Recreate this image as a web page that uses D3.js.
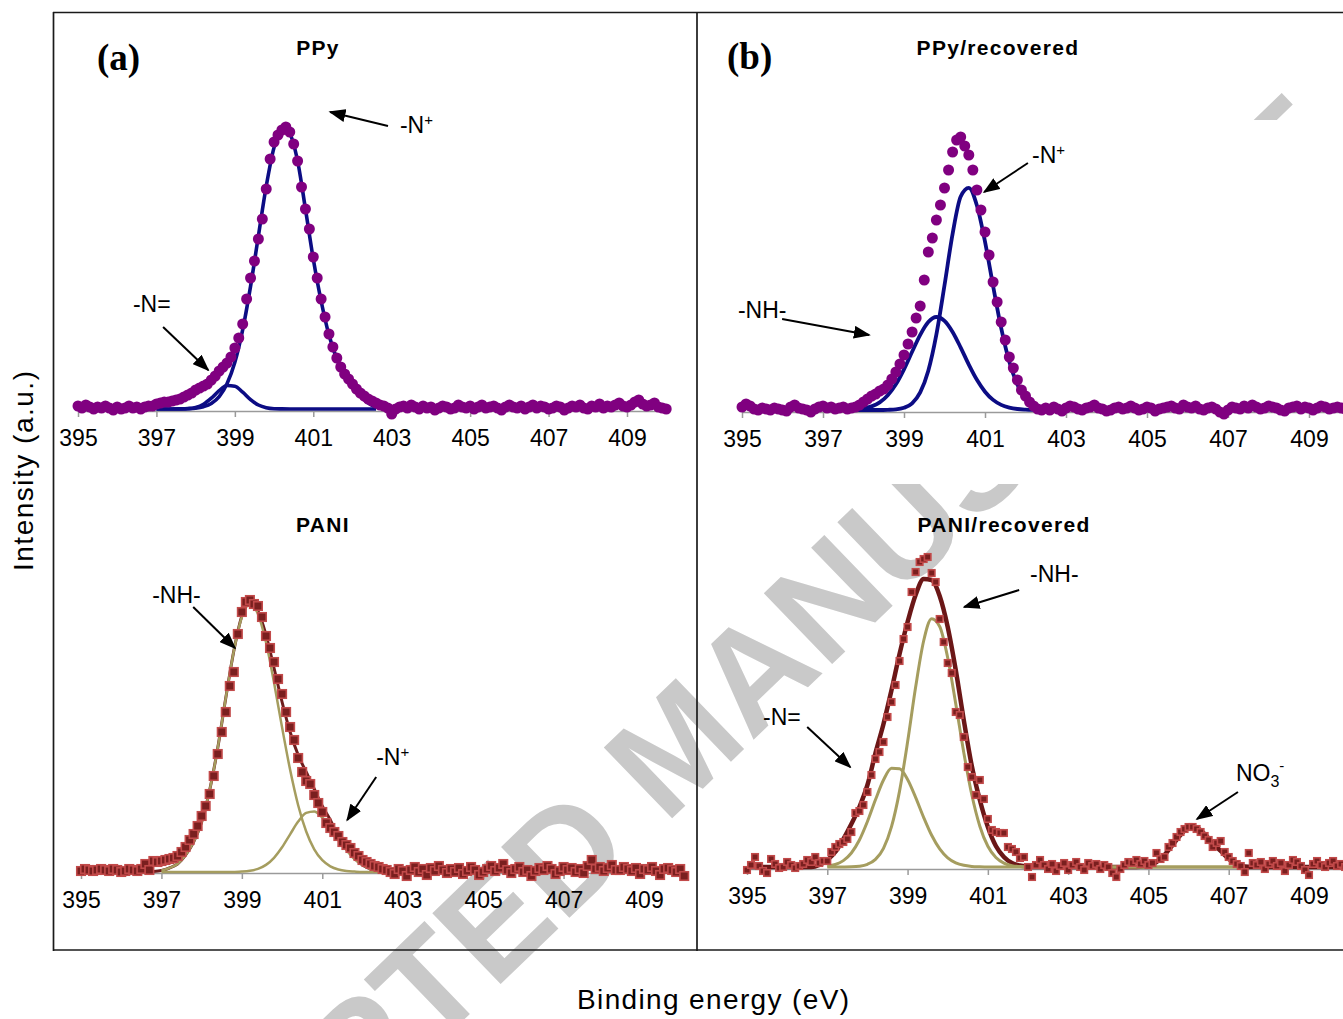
<!DOCTYPE html>
<html><head><meta charset="utf-8">
<script src="https://cdn.jsdelivr.net/npm/d3@7"></script>
<style>
html,body{margin:0;padding:0;background:#fff;}
svg{display:block;}
</style></head><body>
<svg id="chart" width="1343" height="1019"></svg>
<script>
// ---------------- DATA ----------------
const dotStart = 395.0, dotStep = 0.1, lineStep = 0.2;
const tickValues = [395, 397, 399, 401, 403, 405, 407, 409];

// (a) PPy : measured points (395.0 .. 410.0, every 0.1 eV)
const ppyIntensity = [3,1,4,2,0,2,1,3,1,-1,2,0,1,3,1,2,0,2,3,
 3,5,6,7,7,8,9,10,12,14,16,19,21,23,
 25,29,33,38,42,46,52,61,71,85,110,131,148,170,190,220,250,267,274,279,282,277,265,248,222,200,180,152,131,110,92,75,62,51,42,35,30,25,20,16,13,10,8,6,4,3,1,-5,0,2,
 3,1,4,2,0,3,1,2,-1,1,3,2,0,1,4,2,1,3,0,2,4,1,2,3,1,-1,2,4,2,1,3,0,2,4,1,3,2,0,1,3,2,-1,1,3,2,4,1,0,3,2,5,1,3,2,4,6,3,2,4,7,9,5,3,4,6,2,1,0];
const ppyLineStart = 397.0;
const ppyFitNplus = [0,0,0,0.1,0.3,0.8,2.3,5.5,12.3,25.2,46.7,79.3,122.6,173.0,222.7,261.6,280.2,275,248,200,150,108,74,50,33,22,13,6,2];
const ppyFitNeq = [0,0,0,0.1,0.4,1.6,4.8,10.8,18.3,23.5,22.8,16.8,9.4,4.0,1.3,0.3,0.1,0,0,0,0,0,0,0,0,0,0,0,0];

// (b) PPy/recovered
const ppyRecIntensity = [3,6,4,1,0,2,1,0,2,1,0,-1,3,5,2,1,0,-2,1,3,4,2,3,1,2,3,
 1,2,3,5,8,11,14,16,19,21,25,31,38,46,55,66,78,92,104,130,158,172,190,205,222,240,258,270,273,264,255,240,220,200,178,155,128,108,88,70,53,42,30,20,14,8,4,1,0,
 2,0,3,1,-1,2,4,3,1,0,2,3,5,2,1,-1,0,2,3,1,2,4,2,0,1,3,2,-1,1,2,3,4,2,1,5,3,2,4,1,0,2,3,1,-2,-4,0,3,2,1,4,2,5,3,1,2,4,3,2,0,-1,2,3,4,1,3,2,0,2,4,3,1,2,3,2,1,2];
const ppyRecLineStart = 397.8;
const ppyRecFitNH = [0.6,1.5,3.6,7.6,14.7,25.7,40.7,58.2,75.2,88.0,93.0,89.2,78.1,62.4,45.4,30.2,18.3,10.1,5.1,2.4,1.0,0.4,0.1,0];
const ppyRecFitNplus = [0,0,0,0,0.2,0.6,2.2,6.7,17.6,39.3,75.6,124.7,176.2,213.5,222.2,204.5,168.3,124.0,81.8,48.2,25.5,12.0,5.1,1.9];

// PANI
const paniIntensity = [1,3,2,1,2,3,2,1,3,2,0,1,3,2,1,
 3,8,2,11,10,11,12,13,14,16,20,25,32,38,46,56,66,78,96,118,140,160,186,200,238,260,270,272,268,266,255,236,224,210,193,178,160,145,132,114,100,91,88,77,69,60,49,44,40,36,30,27,24,19,16,12,10,8,6,5,3,2,0,
 -2,3,1,-4,2,5,0,3,-3,4,1,6,2,-1,3,0,4,-2,1,5,2,-3,0,3,6,1,4,8,2,-1,3,5,0,2,-4,1,4,2,6,3,-2,1,5,2,4,0,3,-1,6,12,3,5,1,4,7,2,2,5,3,1,4,-2,3,2,5,1,-3,3,4,2,0,3,-4];
const paniEnvStart = 396.8;
const paniEnvelope = [0.5,1.5,4,8,17,30,50,82,124,174,221,256,269,261,237,204,170,140,117,100,83,66,52,35,24,14,7,3,1];
const paniLineStart = 397.0;
const paniFitNH = [1.5,4,8,17,30,50,82,124,174,221,255,268,257.9,229.7,189.4,144.6,102.2,66.8,40.5,22.7,11.8,5.7,2.5,1.0,0.4,0,0,0];
const paniFitNplus = [0,0,0,0,0,0,0,0,0,0.1,0.4,1.2,3.1,7.1,14.2,24.7,37.7,50.4,59.1,60.6,54.6,46,32,22,13,7,3,1];

// PANI/recovered
const paniRecIntensity = [-3,2,10,1,-4,-6,8,3,-1,0,5,2,-1,1,3,7,5,10,4,6,6,
 15,20,23,25,28,35,54,56,62,75,92,108,115,125,150,165,182,206,228,240,275,295,305,308,310,294,285,248,225,204,194,155,152,130,100,90,72,87,68,48,37,35,34,34,20,18,15,9,10,0,-10,2,7,2,
 -2,3,-4,1,4,-3,2,5,0,-3,4,1,3,-2,2,0,-6,-10,-2,2,5,4,7,3,6,
 2,4,14,8,10,20,24,30,35,38,40,40,38,35,31,27,20,24,26,15,10,6,3,1,-5,14,4,2,5,-2,3,6,1,4,-4,2,7,5,1,-3,-8,3,6,2,0,4,6,1,3,0,2];
const paniRecEnvStart = 395.0;
const paniRecEnvelope = [0,0,0,0,0,0,0,0,0,
 2,7,15,28,43,60,82,114,143,177,213,245,272,288,287,271,240,197,147,101,67,40,21,10,4,1.5,0.5,
 0,0,0,0,0,0,0,0,0,0,0,0,0,
 0.3,1.5,5,12,22,32,39,39,33,24,16,8,3,0.5,
 0,0,0,0,0,0,0,0,0,0,0,0,0];
const paniRecLineStart = 397.0;
const paniRecFitNH = [0,0,0.05,0.2,0.8,2.7,7.6,18.7,40.3,75.9,124.9,179.7,226.0,248.3,240.5,209.2,163.3,114.6,72.2,40.8,20.7,9.5,3.9,1.4,0.5,0.1,
 0,0,0,0,0,0,0,0,0,0,0,0,0,0,0,0,0,0,0,0,0,0,0,0,0,0,0];
const paniRecFitNeq = [0.9,2.5,6.4,14.0,27.0,45.5,67.2,87.0,98.7,98.3,87.5,69.7,49.7,31.7,18.1,9.2,4.2,1.7,0.6,0.2,
 0,0,0,0,0,0,0,0,0,0,0,0,0,0,0,0,0,0,0,0,0,0,0,0,0,0,0,0,0,0,0,0,0];

// ---------------- DRAWING ----------------
const FONT = "'Liberation Sans', Arial, Helvetica, sans-serif";
const SERIF = "'Liberation Serif', 'Times New Roman', serif";
const svg = d3.select('#chart');
svg.append('rect').attr('width', 1343).attr('height', 1019).attr('fill', '#fff');

const defs = svg.append('defs');
defs.append('marker').attr('id', 'ah').attr('viewBox', '0 0 10 10')
  .attr('refX', 9).attr('refY', 5).attr('markerWidth', 17).attr('markerHeight', 13)
  .attr('markerUnits', 'userSpaceOnUse').attr('orient', 'auto').attr('preserveAspectRatio', 'none')
  .append('path').attr('d', 'M0,0 L10,5 L0,10 Z').attr('fill', '#000');

// watermark
svg.append('text').text('ACCEPTED MANUSCRIPT')
  .attr('transform', 'translate(711,781) rotate(-44)')
  .attr('text-anchor', 'middle').attr('font-family', FONT).attr('font-weight', 'bold')
  .attr('font-size', 143).attr('fill', '#c9c9c9');
// top-right picture covers the watermark
svg.append('rect').attr('x', 698).attr('y', 120).attr('width', 645).attr('height', 364).attr('fill', '#fff');

const panels = [
  { layout: {x395: 78, x409: 627, base: 409, axisY: 411}, title: 'PPy', tx: 318, ty: 55, tag: '(a)', tagX: 97, tagY: 70,
    dots: ppyIntensity, marker: 'circle',
    lines: [
      {start: ppyLineStart, values: ppyFitNplus, color: '#0c0c84', width: 3.6},
      {start: ppyLineStart, values: ppyFitNeq, color: '#0c0c84', width: 3.6}],
    notes: [
      {parts: [['-N'], ['+', 'sup']], e: 403.21, h: 276, arrow: [402.905, 283, 401.43, 297]},
      {parts: [['-N=']], e: 396.40, h: 97, arrow: [397.17, 82, 398.32, 39]}]},
  { layout: {x395: 742, x409: 1309, base: 410, axisY: 412}, title: 'PPy/recovered', tx: 998, ty: 55, tag: '(b)', tagX: 727, tagY: 69,
    dots: ppyRecIntensity, marker: 'circle',
    lines: [
      {start: ppyRecLineStart, values: ppyRecFitNH, color: '#0c0c84', width: 3.8},
      {start: ppyRecLineStart, values: ppyRecFitNplus, color: '#0c0c84', width: 3.8}],
    notes: [
      {parts: [['-N'], ['+', 'sup']], e: 402.16, h: 247, arrow: [402.06, 247, 400.98, 218]},
      {parts: [['-NH-']], e: 394.90, h: 92, arrow: [395.99, 91, 398.14, 75]}]},
  { layout: {x395: 81, x409: 644, base: 872, axisY: 873}, title: 'PANI', tx: 323, ty: 532,
    dots: paniIntensity, marker: 'square', size: 8.5,
    lines: [
      {start: paniEnvStart, values: paniEnvelope, color: '#6e1c1c', width: 3},
      {start: paniLineStart, values: paniFitNH, color: '#a59d5f', width: 2.5},
      {start: paniLineStart, values: paniFitNplus, color: '#a59d5f', width: 2.5}],
    notes: [
      {parts: [['-NH-']], e: 396.77, h: 269, arrow: [397.79, 265, 398.83, 224]},
      {parts: [['-N'], ['+', 'sup']], e: 402.34, h: 107, arrow: [402.34, 95, 401.62, 52]}]},
  { layout: {x395: 747, x409: 1309, base: 867, axisY: 869}, title: 'PANI/recovered', tx: 1004, ty: 532,
    dots: paniRecIntensity, marker: 'square', size: 6.5,
    lines: [
      {start: paniRecEnvStart, values: paniRecEnvelope, color: '#6b1717', width: 4.5},
      {start: paniRecLineStart, values: paniRecFitNH, color: '#a59d5f', width: 3},
      {start: paniRecLineStart, values: paniRecFitNeq, color: '#a59d5f', width: 3}],
    notes: [
      {parts: [['-NH-']], e: 402.05, h: 285, arrow: [401.78, 277, 400.41, 260]},
      {parts: [['-N=']], e: 395.40, h: 142, arrow: [396.50, 140, 397.57, 100]},
      {parts: [['NO'], ['3', 'sub'], ['-', 'supAfterSub']], e: 407.18, h: 86, arrow: [407.23, 75, 406.21, 48]}]}
];

panels.forEach(p => {
  const L = p.layout;
  const ppe = (L.x409 - L.x395) / 14;
  const x = d3.scaleLinear().domain([395, 410]).range([L.x395, L.x395 + 15 * ppe]);
  const y = d3.scaleLinear().domain([0, 300]).range([L.base, L.base - 300]);
  const g = svg.append('g');

  // axis
  const ax = g.append('g').attr('transform', `translate(0,${L.axisY})`)
    .call(d3.axisBottom(x).tickValues(tickValues).tickSize(6).tickSizeOuter(0).tickFormat(d3.format('d')));
  ax.select('.domain').attr('stroke', '#9a9a9a').attr('stroke-width', 1.5);
  ax.selectAll('.tick line').attr('stroke', '#9a9a9a').attr('stroke-width', 1.5);
  ax.selectAll('.tick text').attr('y', 35).attr('dy', 0).attr('font-size', 23)
    .attr('font-family', FONT).attr('fill', '#000');

  // fitted lines
  const lineGen = d3.line().x(d => x(d.e)).y(d => y(d.v)).curve(d3.curveMonotoneX);
  p.lines.forEach(ln => {
    const pts = ln.values.map((v, i) => ({e: ln.start + i * lineStep, v}));
    g.append('path').datum(pts).attr('d', lineGen).attr('fill', 'none')
      .attr('stroke', ln.color).attr('stroke-width', ln.width).attr('stroke-linejoin', 'round');
  });

  // measured points
  const pts = p.dots.map((v, i) => ({e: dotStart + i * dotStep, v}));
  if (p.marker === 'circle') {
    g.append('g').selectAll('circle').data(pts).join('circle')
      .attr('cx', d => x(d.e)).attr('cy', d => y(d.v)).attr('r', 5.5).attr('fill', '#800080');
  } else {
    const s = p.size;
    g.append('g').selectAll('rect').data(pts).join('rect')
      .attr('x', d => x(d.e) - s / 2).attr('y', d => y(d.v) - s / 2)
      .attr('width', s).attr('height', s)
      .attr('fill', '#7a1f1f').attr('stroke', '#c24a4a').attr('stroke-width', 1.6);
  }

  // title and tag
  g.append('text').text(p.title).attr('x', p.tx).attr('y', p.ty).attr('text-anchor', 'middle')
    .attr('font-family', FONT).attr('font-weight', 'bold').attr('font-size', 21)
    .attr('letter-spacing', 1.3).attr('fill', '#000');
  if (p.tag) {
    g.append('text').text(p.tag).attr('x', p.tagX).attr('y', p.tagY)
      .attr('font-family', SERIF).attr('font-weight', 'bold').attr('font-size', 37).attr('fill', '#000');
  }

  // annotations
  p.notes.forEach(n => {
    const t = g.append('text').attr('x', x(n.e)).attr('y', y(n.h))
      .attr('font-family', FONT).attr('font-size', 23).attr('fill', '#000');
    n.parts.forEach(([s, kind]) => {
      const ts = t.append('tspan').text(s);
      if (kind === 'sup') ts.attr('font-size', 15).attr('dy', -8);
      if (kind === 'sub') ts.attr('font-size', 16).attr('dy', 6);
      if (kind === 'supAfterSub') ts.attr('font-size', 15).attr('dy', -16);
    });
    const a = n.arrow;
    g.append('line').attr('x1', x(a[0])).attr('y1', y(a[1])).attr('x2', x(a[2])).attr('y2', y(a[3]))
      .attr('stroke', '#000').attr('stroke-width', 2).attr('marker-end', 'url(#ah)');
  });
});

// frame
const frame = svg.append('g').attr('stroke', '#1a1a1a').attr('stroke-width', 1.7);
frame.append('line').attr('x1', 53).attr('y1', 12.5).attr('x2', 1343).attr('y2', 12.5);
frame.append('line').attr('x1', 53.5).attr('y1', 12).attr('x2', 53.5).attr('y2', 951);
frame.append('line').attr('x1', 53).attr('y1', 950).attr('x2', 1343).attr('y2', 950);
frame.append('line').attr('x1', 697).attr('y1', 12).attr('x2', 697).attr('y2', 951);

// axis titles
svg.append('text').text('Intensity (a.u.)')
  .attr('transform', 'translate(33,471) rotate(-90)').attr('text-anchor', 'middle')
  .attr('font-family', FONT).attr('font-size', 28).attr('fill', '#000')
  .attr('textLength', 200).attr('lengthAdjust', 'spacing');
svg.append('text').text('Binding energy (eV)')
  .attr('x', 713).attr('y', 1009).attr('text-anchor', 'middle')
  .attr('font-family', FONT).attr('font-size', 28).attr('fill', '#000')
  .attr('textLength', 272).attr('lengthAdjust', 'spacing');
</script>
</body></html>
